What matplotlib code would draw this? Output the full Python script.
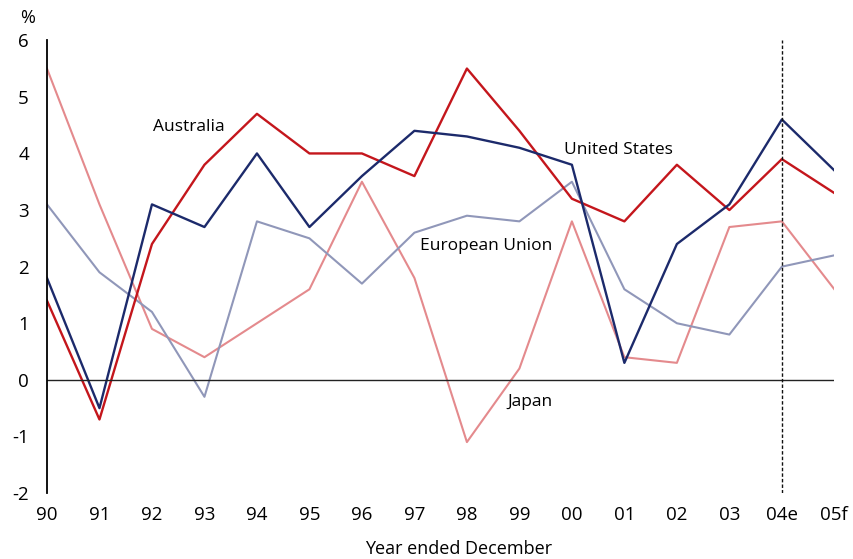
import matplotlib.pyplot as plt
import numpy as np

plt.rcParams['font.family'] = ['Open Sans', 'DejaVu Sans']
plt.rcParams['axes.unicode_minus'] = False

years = ['90', '91', '92', '93', '94', '95', '96', '97', '98', '99',
         '00', '01', '02', '03', '04e', '05f']

australia = [1.4, -0.7, 2.4, 3.8, 4.7, 4.0, 4.0, 3.6, 5.5, 4.4, 3.2, 2.8, 3.8, 3.0, 3.9, 3.3]
united_states = [1.8, -0.5, 3.1, 2.7, 4.0, 2.7, 3.6, 4.4, 4.3, 4.1, 3.8, 0.3, 2.4, 3.1, 4.6, 3.7]
japan = [5.5, 3.1, 0.9, 0.4, 1.0, 1.6, 3.5, 1.8, -1.1, 0.2, 2.8, 0.4, 0.3, 2.7, 2.8, 1.6]
european_union = [3.1, 1.9, 1.2, -0.3, 2.8, 2.5, 1.7, 2.6, 2.9, 2.8, 3.5, 1.6, 1.0, 0.8, 2.0, 2.2]

x = np.arange(len(years))

fig = plt.figure(figsize=(8.54, 5.59), dpi=100)
ax = fig.add_axes([0.055, 0.118, 0.922, 0.81])

ax.plot(x, japan, color='#e48a8d', lw=1.5)
ax.plot(x, european_union, color='#9097b9', lw=1.5)
ax.plot(x, australia, color='#c4161c', lw=1.7)
ax.plot(x, united_states, color='#1c2a6b', lw=1.7)

ax.axhline(0, color='#222222', lw=1.0)
ax.axvline(14, color='#111111', lw=1.0, ls=(0, (2.5, 1.5)))

ax.set_xlim(0, 15)
ax.set_ylim(-2, 6)
ax.set_xticks(x)
ax.set_xticklabels(years)
ax.set_yticks(range(-2, 7))
ax.tick_params(length=0, labelsize=13.5, pad=13)
ax.tick_params(axis='x', pad=9)

for s in ['top', 'right', 'bottom']:
    ax.spines[s].set_visible(False)
ax.spines['left'].set_linewidth(1.3)
ax.spines['left'].set_color('black')

ax.text(2.02, 4.47, 'Australia', fontsize=12.5, va='center')
ax.text(9.85, 4.06, 'United States', fontsize=12.5, va='center')
ax.text(7.11, 2.37, 'European Union', fontsize=12.5, va='center')
ax.text(8.77, -0.39, 'Japan', fontsize=12.5, va='center')

fig.text(28 / 854, 1 - 18 / 559, '%', fontsize=13, ha='center', va='center')
fig.text(459 / 854, 1 - 549 / 559, 'Year ended December', fontsize=13, ha='center', va='center')

fig.savefig('out.png', dpi=100)
